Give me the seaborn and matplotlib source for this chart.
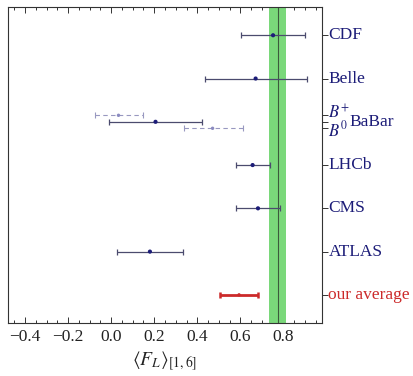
import matplotlib
matplotlib.use("Agg")
import matplotlib.pyplot as plt
import matplotlib.transforms as mtransforms
from matplotlib.ticker import MultipleLocator
import seaborn as sns
import pandas as pd

sns.set_style("ticks")
plt.rcParams['font.family'] = ['Liberation Serif', 'DejaVu Serif']
plt.rcParams['mathtext.fontset'] = 'stix'

# Data
experiments = ["CDF", "Belle", "BaBar", "LHCb", "CMS", "ATLAS", "our average"]
ypos = [7, 6, 5, 4, 3, 2, 1]
centers = [0.752, 0.671, 0.206, 0.657, 0.682, 0.180, 0.594]
err_low = [0.147, 0.235, 0.214, 0.077, 0.101, 0.152, 0.087]
err_high = [0.147, 0.238, 0.214, 0.083, 0.104, 0.153, 0.087]

sub_labels = ["B+", "B0"]
sub_ypos = [5.15, 4.85]
sub_centers = [0.034, 0.471]
sub_err_low = [0.107, 0.135]
sub_err_high = [0.113, 0.140]

band_center = 0.774
band_low = 0.733
band_high = 0.812

df = pd.DataFrame({"exp": experiments, "y": ypos, "x": centers,
                   "lo": err_low, "hi": err_high})
sub = pd.DataFrame({"exp": sub_labels, "y": sub_ypos, "x": sub_centers,
                    "lo": sub_err_low, "hi": sub_err_high})

navy = "#1c1c78"
bar_col = "#4b4b6e"
red = "#cc2a2a"

fig = plt.figure(figsize=(4.13, 3.76), dpi=100)
ax = fig.add_axes([0.019, 0.141, 0.761, 0.840])

# band
ax.axvspan(band_low, band_high, color="#7ad87a", zorder=1, lw=0)
ax.axvline(band_center, color="#3c5a3c", lw=0.8, zorder=2)

# dashed sub-measurements
for _, r in sub.iterrows():
    eb = ax.errorbar(r.x, r.y, xerr=[[r.lo], [r.hi]], fmt="none",
                     ecolor="#9898c0", elinewidth=0.8, capsize=2, capthick=0.8, zorder=3)
    eb[2][0].set_linestyle((0, (4, 3)))
sns.scatterplot(data=sub, x="x", y="y", ax=ax, color="#8a8ac0", s=6,
                edgecolor="none", zorder=4, legend=False)

main = df[df.exp != "our average"]
avg = df[df.exp == "our average"]
ax.errorbar(main.x, main.y, xerr=[main.lo, main.hi], fmt="none",
            ecolor=bar_col, elinewidth=0.9, capsize=2, capthick=0.9, zorder=3)
sns.scatterplot(data=main, x="x", y="y", ax=ax, color=navy, s=9,
                edgecolor="none", zorder=4, legend=False)
ax.errorbar(avg.x, avg.y, xerr=[avg.lo, avg.hi], fmt="none",
            ecolor=red, elinewidth=2.0, capsize=2.5, capthick=1.8, zorder=3)
sns.scatterplot(data=avg, x="x", y="y", ax=ax, color=red, s=6,
                edgecolor="none", zorder=4, legend=False)

ax.set_xlim(-0.48, 0.98)
ax.set_ylim(0.35, 7.65)

ax.xaxis.set_major_locator(MultipleLocator(0.2))
ax.xaxis.set_minor_locator(MultipleLocator(0.05))
ax.tick_params(axis="x", which="both", direction="in", top=True, bottom=True,
               colors="#333333", labelcolor="#222222", labelsize=12.5, width=0.7, pad=4)
ax.tick_params(axis="x", which="major", length=4)
ax.tick_params(axis="x", which="minor", length=2.5)
ax.set_xticks([-0.4, -0.2, 0.0, 0.2, 0.4, 0.6, 0.8])
ax.set_xticklabels(["\u22120.4", "\u22120.2", "0.0", "0.2", "0.4", "0.6", "0.8"])

# right-side labels
ytick_pos = [7, 6, 5.15, 5, 4.85, 4, 3, 2, 1]
ax.yaxis.tick_right()
ax.set_yticks(ytick_pos)
ax.set_yticklabels([""] * len(ytick_pos))
ax.tick_params(axis="y", which="both", direction="out", length=4, width=0.7,
               colors="#333333", left=False, right=True)
ax.set_ylabel("")

trans = mtransforms.blended_transform_factory(ax.transAxes, ax.transData)
for _, r in df.iterrows():
    if r.exp == "BaBar":
        continue
    c = red if r.exp == "our average" else navy
    ax.text(1.02, r.y, r.exp, transform=trans, color=c, fontsize=12.5,
            va="center", ha="left")
ax.text(1.02, 5.2, "$B^{+}$", transform=trans, color=navy, fontsize=12,
        va="center", ha="left")
ax.text(1.02, 4.8, "$B^{0}$", transform=trans, color=navy, fontsize=12,
        va="center", ha="left")
ax.text(1.088, 5.0, "BaBar", transform=trans, color=navy, fontsize=12.5,
        va="center", ha="left")

for s in ax.spines.values():
    s.set_color("#333333")
    s.set_linewidth(0.8)

ax.set_xlabel(r"$\langle F_L\rangle_{[1,6]}$", fontsize=14, color="#222222", labelpad=3)

fig.savefig("out.png", dpi=100)
